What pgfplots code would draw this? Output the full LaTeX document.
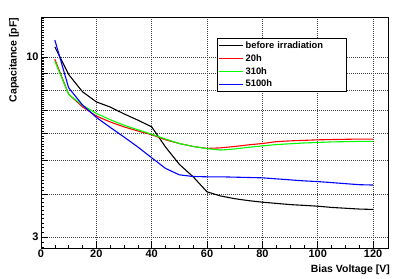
\documentclass[border=0pt]{standalone}
\usepackage{pgfplots}
\pgfplotsset{compat=1.18}
\usepackage{fontspec}
\setmainfont{Liberation Sans}
\begin{document}
\begin{tikzpicture}
\begin{axis}[
  at={(0,0)}, anchor=south west,
  scale only axis, width=347bp, height=231bp,
  ymode=log, log basis y=10,
  xmin=0, xmax=125.4, ymin=2.79, ymax=13.07,
  xtick={0,20,...,120},
  minor x tick num=3,
  ytick={3,4,5,6,7,8,9,10},
  yticklabels={3,,,,,,,10},
  minor ytick={2.8,2.9,3.1,3.2,3.3,3.4,3.5,3.6,3.7,3.8,3.9,4.1,4.2,4.3,4.4,4.5,4.6,4.7,4.8,4.9,5.1,5.2,5.3,5.4,5.5,5.6,5.7,5.8,5.9,6.1,6.2,6.3,6.4,6.5,6.6,6.7,6.8,6.9,7.1,7.2,7.3,7.4,7.5,7.6,7.7,7.8,7.9,8.1,8.2,8.3,8.4,8.5,8.6,8.7,8.8,8.9,9.1,9.2,9.3,9.4,9.5,9.6,9.7,9.8,9.9,10.2,10.4,10.6,10.8,11,11.2,11.4,11.6,11.8,12,12.2,12.4,12.6,12.8,13},
  log ticks with fixed point,
  xmajorgrids, ymajorgrids,
  grid style={dash pattern=on 0.8bp off 1.2bp, black!75, line width=0.5pt},
  major tick length=7bp, minor tick length=3bp,
  tick style={black, line width=0.5pt},
  xtick pos=bottom, ytick pos=left,
  tick align=inside,
  axis line style={line width=0.8pt},
  /pgf/number format/assume math mode=true,
  tick label style={font=\fontsize{11}{12}\selectfont\bfseries},
  xticklabel style={yshift=2bp},
  yticklabel style={xshift=1bp},
  legend style={at={(rel axis cs:0.506,0.908)}, anchor=north west, draw=black, line width=0.5pt, fill=white,
    font=\fontsize{9.4}{10}\selectfont\bfseries, inner xsep=2bp, inner ysep=1.5bp, row sep=1.6bp,
    nodes={text width=97bp, inner sep=1.5bp}},
  legend cell align=left,
  legend image code/.code={\draw[#1, line width=1.3pt] (0bp,0bp) -- (24bp,0bp);},
  every axis plot/.append style={line width=1.1pt},
]
\addplot[black] coordinates {(5,10.7)(10,8.9)(15,7.93)(20,7.41)(25,7.16)(30,6.84)(35,6.56)(40,6.27)(45,5.48)(50,4.88)(55,4.49)(60,4.06)(65,3.95)(70,3.88)(75,3.83)(80,3.79)(85,3.76)(90,3.73)(95,3.71)(100,3.69)(105,3.66)(110,3.64)(115,3.62)(120,3.61)};
\addlegendentry{before irradiation}
\addplot[red] coordinates {(5,9.85)(10,7.8)(15,7.17)(20,6.74)(25,6.48)(30,6.27)(35,6.1)(40,5.95)(45,5.75)(50,5.61)(55,5.5)(60,5.43)(65,5.45)(70,5.5)(75,5.56)(80,5.61)(85,5.68)(90,5.71)(95,5.73)(100,5.75)(105,5.76)(110,5.77)(115,5.78)(120,5.78)};
\addlegendentry{20h}
\addplot[green] coordinates {(5,9.73)(10,7.79)(15,7.25)(20,6.86)(25,6.58)(30,6.34)(35,6.15)(40,5.97)(45,5.78)(50,5.61)(55,5.5)(60,5.42)(65,5.37)(70,5.41)(75,5.47)(80,5.52)(85,5.57)(90,5.6)(95,5.63)(100,5.65)(105,5.67)(110,5.68)(115,5.69)(120,5.69)};
\addlegendentry{310h}
\addplot[blue] coordinates {(5,11.2)(10,8.14)(15,7.26)(20,6.68)(25,6.25)(30,5.86)(35,5.48)(40,5.1)(45,4.75)(50,4.55)(55,4.5)(60,4.49)(65,4.49)(70,4.48)(75,4.47)(80,4.46)(85,4.43)(90,4.4)(95,4.37)(100,4.35)(105,4.32)(110,4.29)(115,4.26)(120,4.25)};
\addlegendentry{5100h}
\end{axis}
\node[rotate=90, font=\fontsize{10.5}{12}\selectfont\bfseries, anchor=center] at (-27bp,188bp) {Capacitance [pF]};
\node[font=\fontsize{10.5}{12}\selectfont\bfseries, anchor=east, inner sep=0pt] at (349bp,-22bp) {Bias Voltage [V]};
\pgfresetboundingbox
\useasboundingbox (-41bp,-31bp) rectangle (370bp,248bp);
\end{tikzpicture}
\end{document}
